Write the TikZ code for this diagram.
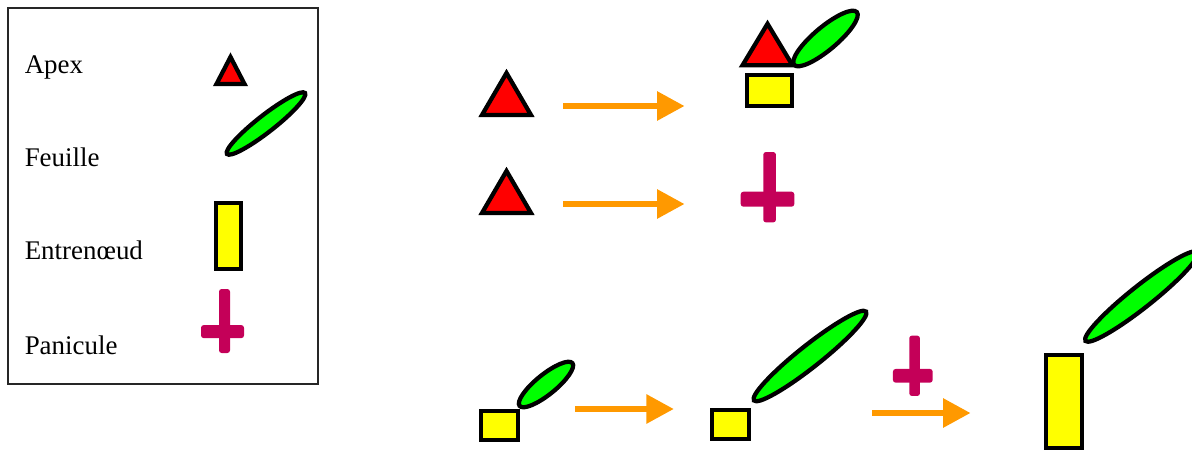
\documentclass[tikz,border=0pt]{standalone}
\usepackage{fontspec}
\setmainfont{Liberation Serif}
\usetikzlibrary{arrows.meta, shapes.geometric}

\definecolor{apexcolor}{RGB}{255,0,0}
\definecolor{leafcolor}{RGB}{0,255,0}
\definecolor{nodecolor}{RGB}{255,255,0}
\definecolor{panicolor}{RGB}{196,0,88}
\definecolor{flowcolor}{RGB}{255,153,0}
\tikzset{
    organ/.style={draw=black, line width=3.2pt, inner sep=0pt, outer sep=0pt},
    apex/.style 2 args={organ, fill=apexcolor, isosceles triangle, isosceles triangle stretches,
        shape border rotate=90, anchor=lower side, minimum width=#1*0.75pt, minimum height=#2*0.75pt},
    feuille/.style n args={3}{organ, fill=leafcolor, ellipse, rotate=#3, minimum width=#1*0.75pt, minimum height=#2*0.75pt},
    entrenoeud/.style 2 args={organ, fill=nodecolor, rectangle, minimum width=#1*0.75pt, minimum height=#2*0.75pt},
    panbar/.style 2 args={fill=panicolor, rectangle, rounded corners=2pt, inner sep=0pt, outer sep=0pt,
        minimum width=#1*0.75pt, minimum height=#2*0.75pt},
    flow/.style={draw=flowcolor, line width=4.2pt, -{Triangle[length=20.5pt, width=21pt]}},
    legendtext/.style={anchor=base west, inner sep=0pt, font=\fontsize{20.2pt}{24pt}\selectfont},
}

\begin{document}
\begin{tikzpicture}[x=0.75pt, y=-0.75pt]
        \useasboundingbox (0,0) rectangle (1192,450);

        % legend
        \node[draw=black!85, line width=1.1pt, rectangle, inner sep=0pt, minimum width=232.5pt, minimum height=282pt] (legend) at (163,196) {};
        \node[legendtext] (tapex) at (24.5,73) {Apex};
        \node[legendtext] (tfeuille) at (24.5,166) {Feuille};
        \node[legendtext] (tentre) at (24.5,259.5) {Entrenœud};
        \node[legendtext] (tpani) at (24.5,354.5) {Panicule};
        \node[apex={28}{27}] (lapex) at (230.5,84) {};
        \node[feuille={99}{17}{38}] (lfeuille) at (266,123.5) {};
        \node[entrenoeud={25}{66}] (lentre) at (228.6,236.2) {};
        \node[panbar={11}{64}] (lpani1) at (224.5,321) {};
        \node[panbar={43}{13}] (lpani2) at (222.5,331.6) {};

        % first row
        \node[apex={49}{42}] (a1) at (506.5,115) {};
        \node[feuille={82}{23}{40}] (f1) at (825.5,38.5) {};
        \node[apex={50}{41.5}] (a2) at (767.5,65.3) {};
        \node[entrenoeud={45}{30.5}] (e1) at (769.3,90.5) {};
        \coordinate (s1) at (563,106);
        \coordinate (t1) at (684.5,106);
        \draw[flow] (s1) -- (t1);

        % second row
        \node[apex={49}{42}] (a3) at (506.5,213) {};
        \node[panbar={12.7}{70.3}] (p1) at (769.6,187.2) {};
        \node[panbar={53.6}{15}] (p2) at (767.5,199.2) {};
        \coordinate (s2) at (563,204);
        \coordinate (t2) at (684.5,204);
        \draw[flow] (s2) -- (t2);

        % third row
        \node[entrenoeud={36.7}{29}] (e2) at (499.6,425.5) {};
        \node[feuille={68}{20}{39}] (f2) at (546,384.5) {};
        \coordinate (s3) at (575,409);
        \coordinate (t3) at (673.8,409);
        \draw[flow] (s3) -- (t3);

        \node[entrenoeud={36.7}{28.7}] (e3) at (730.6,424.6) {};
        \node[feuille={143}{22}{38.4}] (f3) at (810,356) {};
        \node[panbar={10.7}{60.3}] (p3) at (914.6,365.8) {};
        \node[panbar={39.7}{13.7}] (p4) at (912.8,375.8) {};
        \coordinate (s4) at (872,413);
        \coordinate (t4) at (970.5,413);
        \draw[flow] (s4) -- (t4);

        \node[entrenoeud={36}{93.3}] (e4) at (1064,401.3) {};
        \node[feuille={143}{22}{38.4}] (f4) at (1141.5,296.5) {};

    \end{tikzpicture}
\end{document}
